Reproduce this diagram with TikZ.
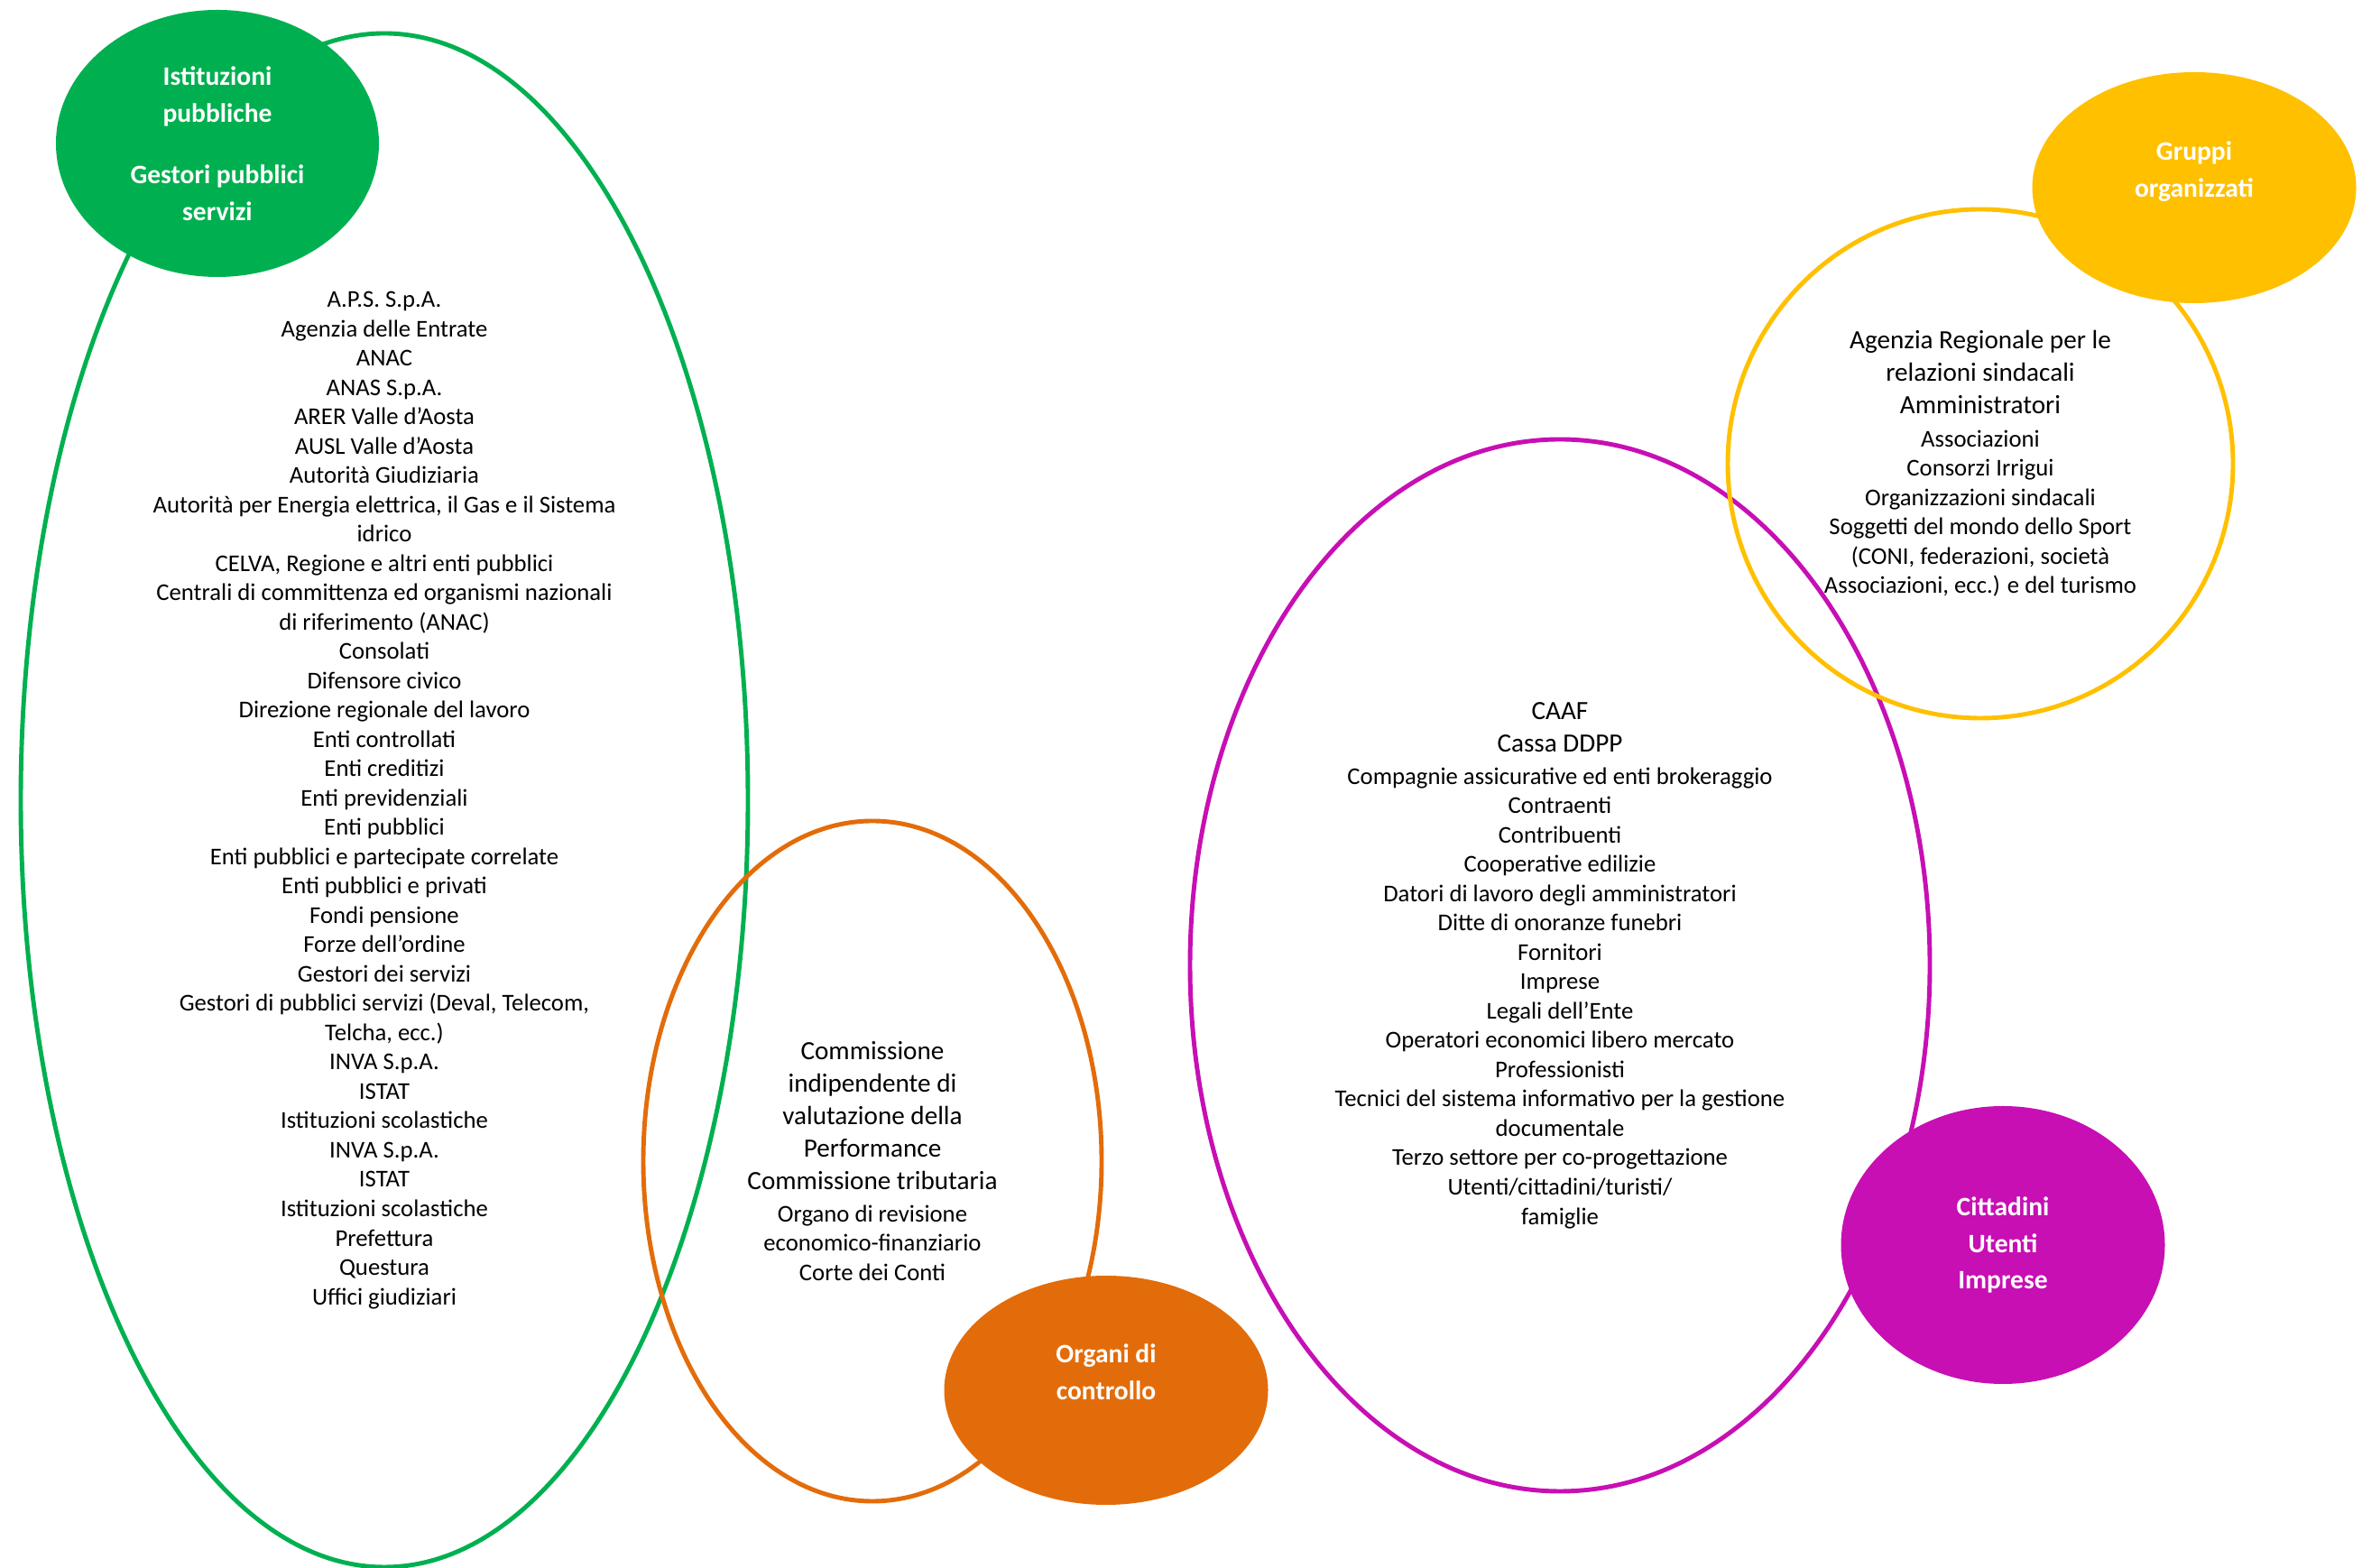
\documentclass[tikz,border=0pt]{standalone}
\usepackage{fontspec}
\setmainfont{Carlito}
\usetikzlibrary{shapes.geometric}
\definecolor{istgreen}{HTML}{00B050}
\definecolor{ctrlorange}{HTML}{E36C0A}
\definecolor{cittmagenta}{HTML}{C70FB4}
\definecolor{grpyellow}{HTML}{FFC000}
\newcommand{\bigtxt}{\fontsize{8.3}{10.2}\selectfont}
\tikzset{
  ring/.style={draw=#1, ellipse, line width=1.4pt, inner sep=0pt, align=center, font=\fontsize{7.6}{9.25}\selectfont},
  blob/.style={fill=#1, ellipse, inner sep=0pt, align=center, text=white, font=\fontsize{8.4}{11.6}\selectfont\bfseries},
}

\begin{document}
\begin{tikzpicture}
		%%%%% START %%%%%
		\useasboundingbox (0,0) rectangle (26.18,17.38);
		
		% outer rings with their lists
		\node[ring=istgreen, minimum width=8.06cm, minimum height=17cm] (ist) at (4.26,8.51) {A.P.S. S.p.A.\\Agenzia delle Entrate\\ANAC\\ANAS S.p.A.\\ARER Valle d’Aosta\\AUSL Valle d’Aosta\\Autorità Giudiziaria\\Autorità per Energia elettrica, il Gas e il Sistema\\idrico\\CELVA, Regione e altri enti pubblici\\Centrali di committenza ed organismi nazionali\\di riferimento (ANAC)\\Consolati\\Difensore civico\\Direzione regionale del lavoro\\Enti controllati\\Enti creditizi\\Enti previdenziali\\Enti pubblici\\Enti pubblici e partecipate correlate\\Enti pubblici e privati\\Fondi pensione\\Forze dell’ordine\\Gestori dei servizi\\Gestori di pubblici servizi (Deval, Telecom,\\Telcha, ecc.)\\INVA S.p.A.\\ISTAT\\Istituzioni scolastiche\\INVA S.p.A.\\ISTAT\\Istituzioni scolastiche\\Prefettura\\Questura\\Uffici giudiziari};
		
		\node[ring=ctrlorange, minimum width=5.08cm, minimum height=7.54cm] (ctrlring) at (9.67,4.51) {{\bigtxt Commissione}\\[1pt]{\bigtxt indipendente di}\\[1pt]{\bigtxt valutazione della}\\[1pt]{\bigtxt Performance}\\[1pt]{\bigtxt Commissione tributaria}\\[1pt]Organo di revisione\\economico-finanziario\\Corte dei Conti};
		
		\node[ring=cittmagenta, minimum width=8.2cm, minimum height=11.66cm] (cittring) at (17.29,6.68) {{\bigtxt CAAF}\\[1pt]{\bigtxt Cassa DDPP}\\[1pt]Compagnie assicurative ed enti brokeraggio\\Contraenti\\Contribuenti\\Cooperative edilizie\\Datori di lavoro degli amministratori\\Ditte di onoranze funebri\\Fornitori\\Imprese\\Legali dell’Ente\\Operatori economici libero mercato\\Professionisti\\Tecnici del sistema informativo per la gestione\\documentale\\Terzo settore per co-progettazione\\Utenti/cittadini/turisti/\\famiglie};
		
		\node[ring=grpyellow, minimum width=5.6cm, minimum height=5.64cm] (grpring) at (21.95,12.24) {{\bigtxt Agenzia Regionale per le}\\[1pt]{\bigtxt relazioni sindacali}\\[1pt]{\bigtxt Amministratori}\\[1pt]Associazioni\\Consorzi Irrigui\\Organizzazioni sindacali\\Soggetti del mondo dello Sport\\(CONI, federazioni, società\\Associazioni, ecc.) e del turismo};
		
		% filled heads on top
		\node[blob=istgreen, minimum width=3.58cm, minimum height=2.96cm] (ist-h) at (2.41,15.79) {Istituzioni\\pubbliche\\[7.8pt]Gestori pubblici\\servizi};
		\node[blob=ctrlorange, minimum width=3.59cm, minimum height=2.54cm] (ctrl-h) at (12.26,1.97) {Organi di\\controllo\\\mbox{}};
		\node[blob=cittmagenta, minimum width=3.59cm, minimum height=3.08cm] (citt-h) at (22.20,3.58) {Cittadini\\Utenti\\Imprese};
		\node[blob=grpyellow, minimum width=3.59cm, minimum height=2.56cm] (grp-h) at (24.32,15.30) {Gruppi\\organizzati\\\mbox{}};
		%%%%% END %%%%%
\end{tikzpicture}
\end{document}
